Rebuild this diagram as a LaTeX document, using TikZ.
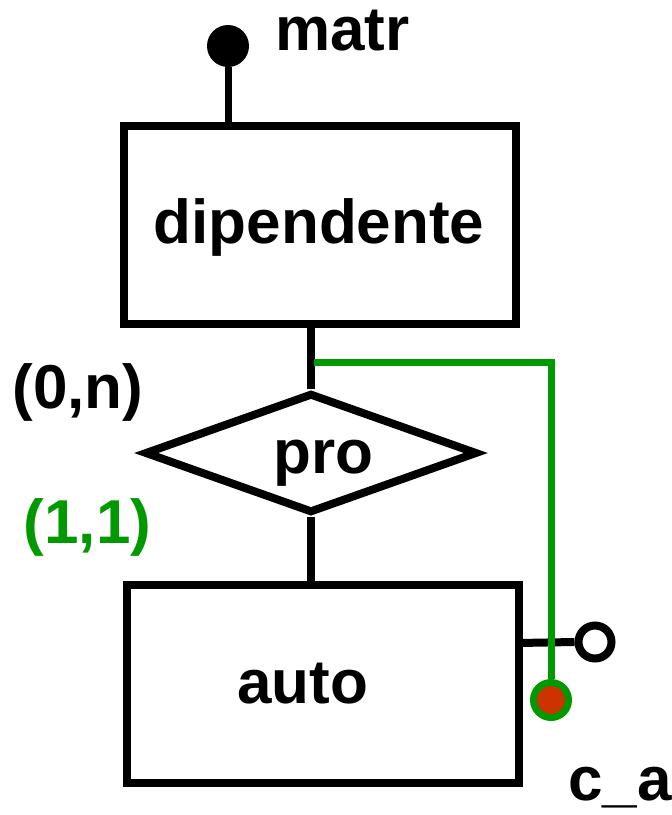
\documentclass[tikz,border=0pt]{standalone}
\usepackage{fontspec}
\setmainfont{Liberation Sans}
\usetikzlibrary{shapes.geometric}
\definecolor{keygreen}{RGB}{0,153,0}
\definecolor{keyred}{RGB}{204,51,0}
\begin{document}
\begin{tikzpicture}[x=1pt,y=-1pt,
  lbl/.style={font=\fontsize{62}{70}\selectfont\bfseries, inner sep=0pt, anchor=base},
  entity/.style={draw, line width=8pt, minimum width=392pt, minimum height=198pt, inner sep=0pt},
  relation/.style={draw, diamond, line width=8pt, minimum width=333pt, minimum height=120pt, aspect=2.8, inner sep=0pt},
  link/.style={line width=8pt},
  idlink/.style={draw=keygreen, line width=7pt}]
\useasboundingbox (0,0) rectangle (672,815);

% entities and relationship
\node[entity] (dip) at (320,225) {};
\node[lbl] at (319,243) {dipendente};
\node[relation] (pro) at (311,453) {};
\node[lbl] at (323.5,473) {pro};
\node[entity] (auto) at (323,684) {};
\node[lbl] at (302.5,703) {auto};

% entity-relationship connectors
\draw[link] (dip.south -| pro.north) -- (pro.north);
\draw[link] (pro.south) -- (auto.north -| pro.south);

% cardinalities
\node[lbl] at (78,408) {(0,n)};
\node[lbl, text=keygreen] at (87.5,543) {(1,1)};

% identifier of dipendente
\coordinate (matrfoot) at (228,126);
\node[circle, fill=black, minimum size=42pt, inner sep=0pt] (matrdot) at (228,46) {};
\draw[link, line width=7pt] (matrfoot) -- (matrdot);
\node[lbl] (matr) at (342.5,50) {matr};

% attribute c_a of auto
\coordinate (cafoot) at (518,643);
\node[circle, draw, line width=8pt, minimum size=33pt, inner sep=0pt] (cadot) at (595,642) {};
\draw[link, line width=8pt] (cafoot) -- (cadot.west);
\node[lbl] (ca) at (620,800) {c\_a};

% external identifier of auto
\coordinate (idstart) at (314,362);
\coordinate (idcorner) at (551,362);
\node[circle, fill=keyred, draw=keygreen, line width=7pt, minimum size=35pt, inner sep=0pt] (iddot) at (551,700) {};
\draw[idlink] (idstart) -- (idcorner) -- (iddot.north);
\end{tikzpicture}
\end{document}
